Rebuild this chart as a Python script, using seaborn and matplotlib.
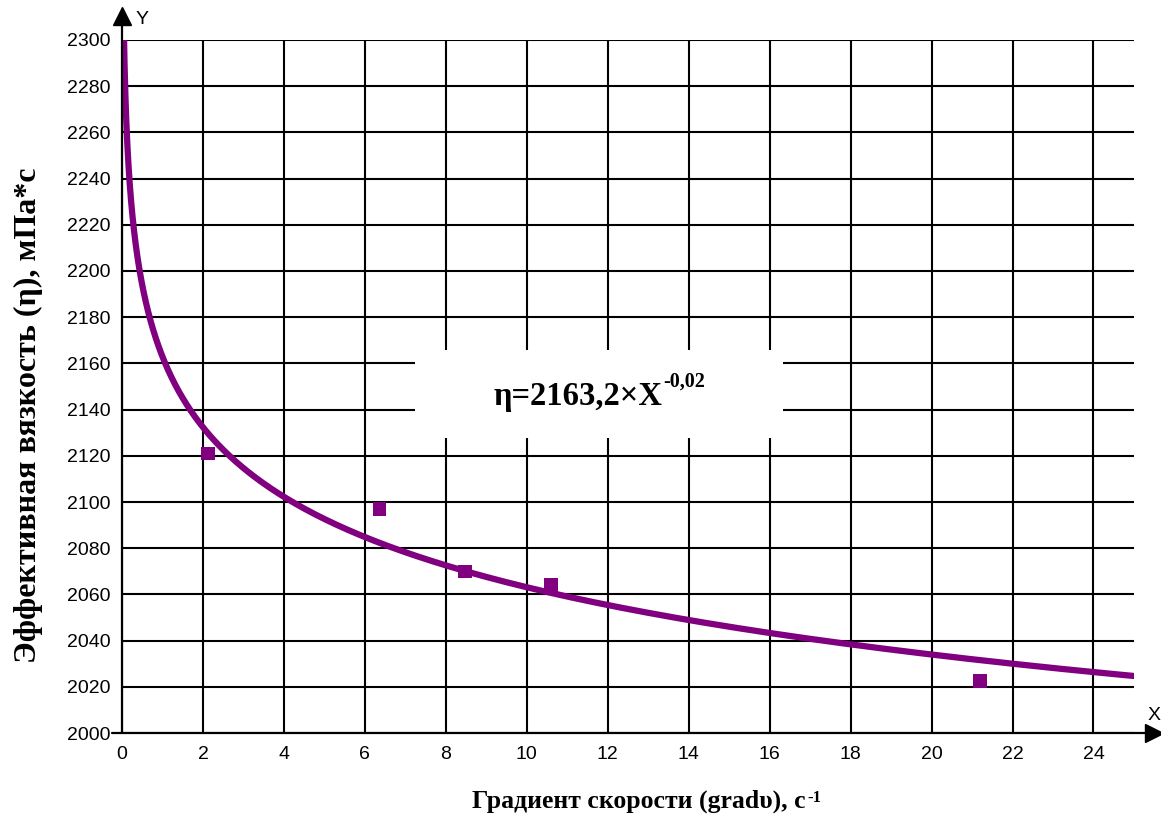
import numpy as np
import pandas as pd
import matplotlib
matplotlib.use("Agg")
import matplotlib.pyplot as plt
import matplotlib.patches as mpatches
import seaborn as sns

# Measured points: shear rate gradient (1/s) vs effective viscosity (mPa*s)
shear_rate = [2.12, 6.36, 8.48, 10.6, 21.2]
viscosity = [2121, 2097, 2070, 2064, 2022.5]

x_ticks = list(range(0, 25, 2))
y_ticks = list(range(2000, 2301, 20))

equation_main = "η=2163,2×X"
equation_power = "-0,02"

sns.set_style("white")
plt.rcParams["font.family"] = ["Liberation Sans", "DejaVu Sans"]
for key in ["text.color", "axes.labelcolor", "xtick.color", "ytick.color"]:
    plt.rcParams[key] = "black"

serif_bold = dict(family=["Liberation Serif", "DejaVu Serif"], fontweight="bold")

fig = plt.figure(figsize=(11.61, 8.16), dpi=100)
ax = fig.add_axes([0.1051, 0.1017, 0.8716, 0.8493])

purple = "#800080"

# power-law trend fitted (least squares in log-log space) to the measured points
slope, intercept = np.polyfit(np.log(shear_rate), np.log(viscosity), 1)
x_fit = np.geomspace(0.045, 25, 600)
trend = pd.DataFrame({"x": x_fit, "y": np.exp(intercept) * x_fit ** slope})
sns.lineplot(data=trend, x="x", y="y", ax=ax, color=purple, linewidth=4.5, zorder=3)

pts = pd.DataFrame({"x": shear_rate, "y": viscosity})
sns.scatterplot(data=pts, x="x", y="y", ax=ax, marker="s", s=95, color=purple,
                edgecolor="none", zorder=4)

ax.set_xlim(0, 25)
ax.set_ylim(2000, 2300)
ax.set_xticks(x_ticks)
ax.set_yticks(y_ticks)
ax.set_xticklabels([str(v) for v in x_ticks], fontsize=14)
ax.set_yticklabels([str(v) for v in y_ticks], fontsize=14)
ax.tick_params(axis="both", direction="inout", length=8, width=1.5, color="black")
ax.tick_params(axis="y", pad=4)
ax.tick_params(axis="x", pad=5)
ax.set_xlabel("")
ax.set_ylabel("")

ax.set_axisbelow(True)
ax.grid(True, color="black", linewidth=1.5)

for side in ["top", "right", "left", "bottom"]:
    ax.spines[side].set_visible(False)

# axes with arrowheads
ax.plot([0, 0], [0, 1.035], transform=ax.transAxes, color="black", lw=1.6,
        clip_on=False, zorder=5)
ax.plot([0], [1.035], transform=ax.transAxes, marker="^", markersize=13,
        color="black", clip_on=False, zorder=5)
ax.plot([-0.01, 1.02], [0, 0], transform=ax.transAxes, color="black", lw=1.6,
        clip_on=False, zorder=5)
ax.plot([1.02], [0], transform=ax.transAxes, marker=">", markersize=13,
        color="black", clip_on=False, zorder=5)
ax.text(0.013, 1.03, "Y", transform=ax.transAxes, fontsize=14, ha="left", va="center")
ax.text(1.02, 0.025, "X", transform=ax.transAxes, fontsize=14, ha="center", va="center")

# equation label on a white panel
ax.add_patch(mpatches.Rectangle((0.2895, 0.4257), 0.3636, 0.127, transform=ax.transAxes,
                                facecolor="white", edgecolor="none", zorder=2))
ax.text(0.5336, 0.4733, equation_main, transform=ax.transAxes, fontsize=23.5,
        ha="right", va="baseline", zorder=3, **serif_bold)
ax.text(0.5346, 0.4995, equation_power, transform=ax.transAxes, fontsize=14.5,
        ha="left", va="baseline", zorder=3, **serif_bold)

# axis titles
fig.text(806 / 1161, 8 / 816, "Градиент скорости (gradυ), с", fontsize=18.5,
         ha="right", va="baseline", **serif_bold)
fig.text(807 / 1161, 14 / 816, "-1", fontsize=12, ha="left", va="baseline", **serif_bold)
fig.text(28 / 1161, 1 - 415 / 816, "Эффективная вязкость (η), мПа*с", fontsize=23,
         rotation=90, ha="center", va="center", **serif_bold)

fig.savefig("out.png", dpi=100)
